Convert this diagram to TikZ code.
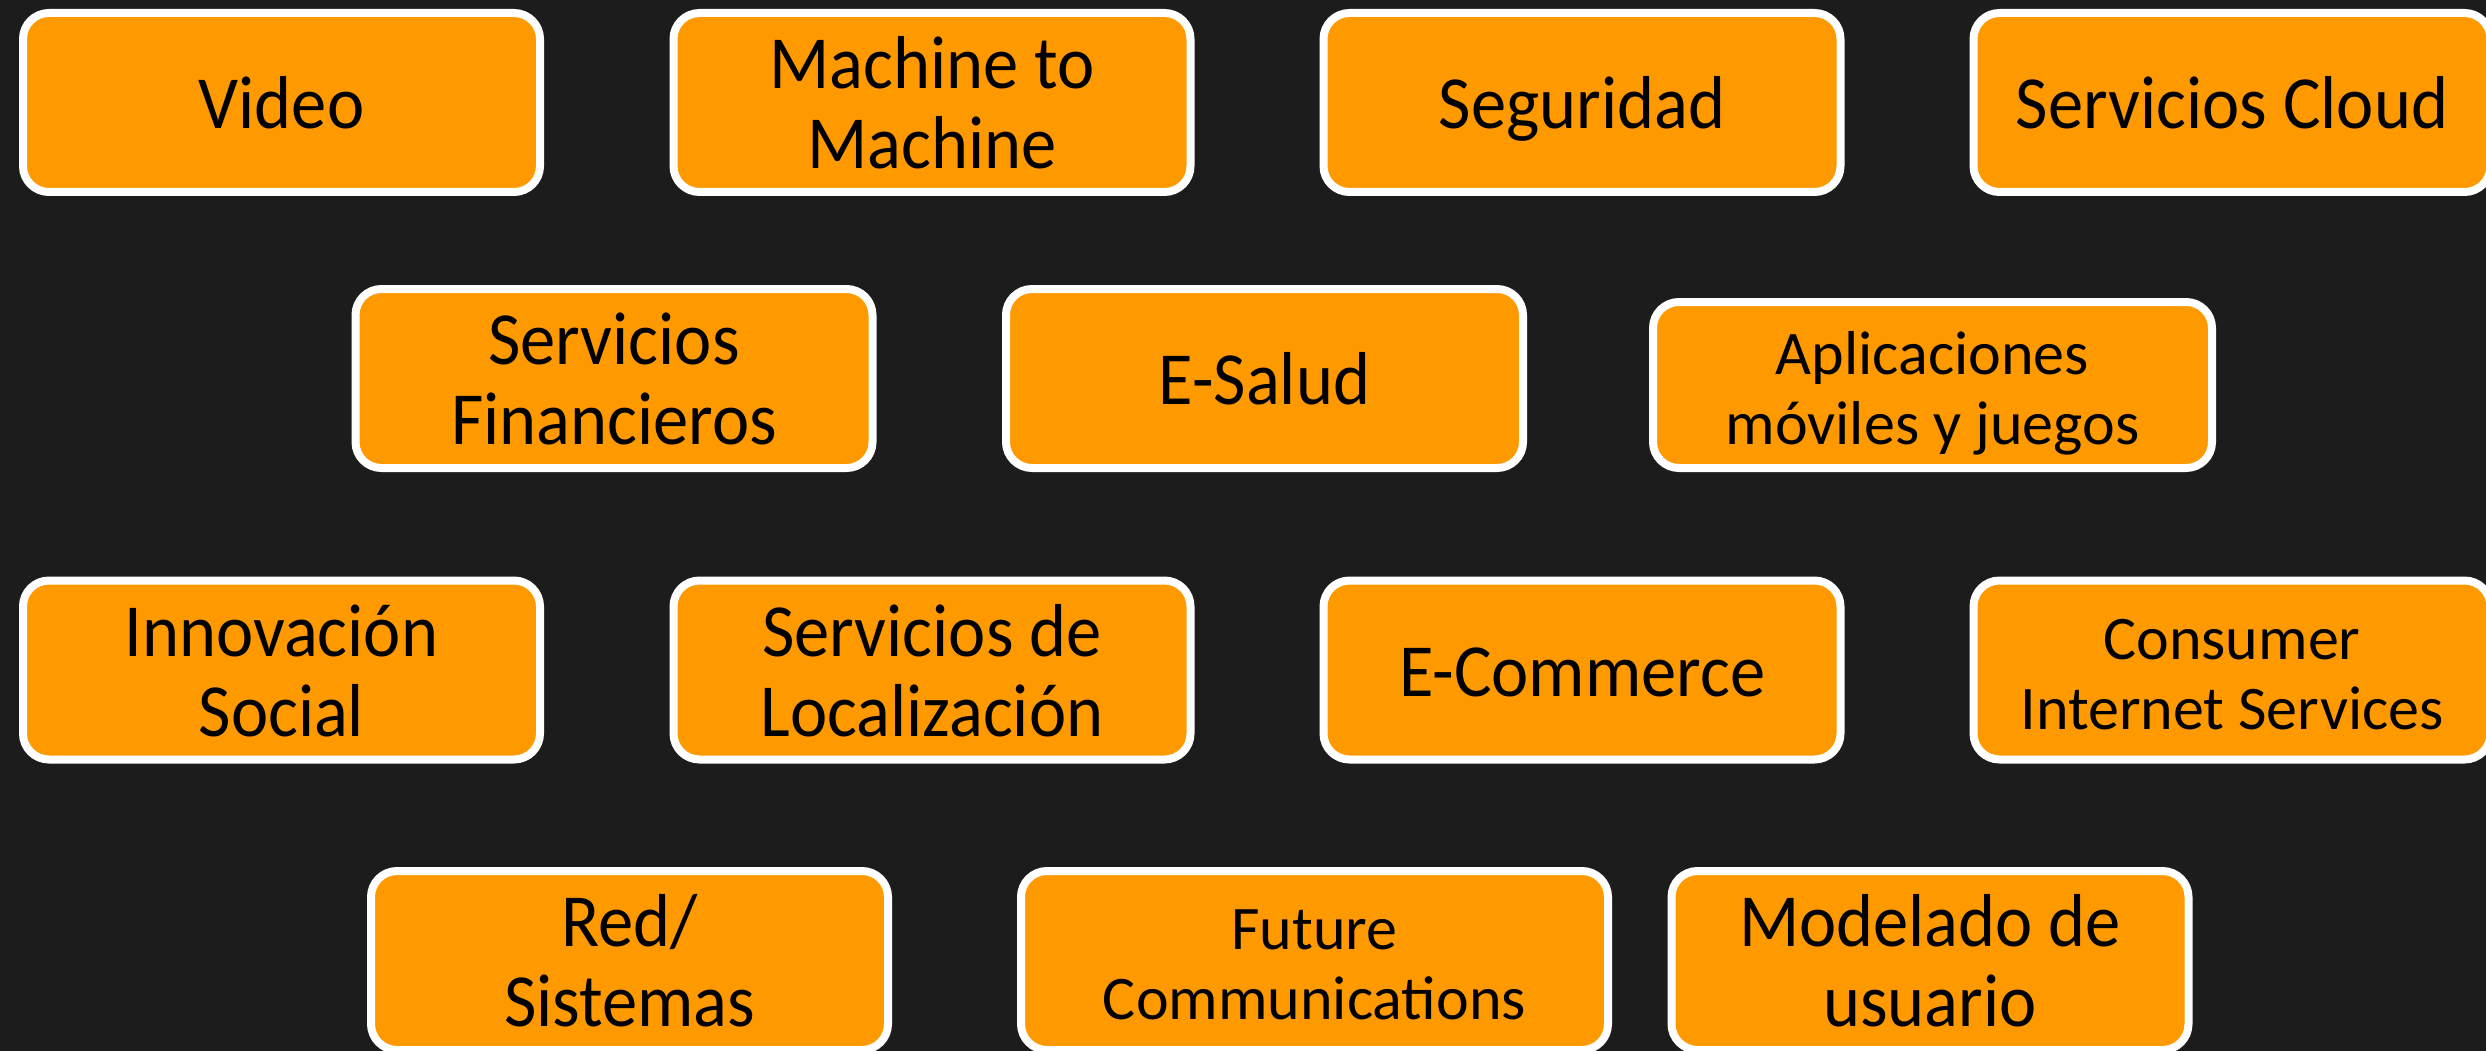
\documentclass[tikz,border=0pt]{standalone}
\usepackage{fontspec}
\setmainfont{Carlito}
\newfontfamily\bigf[FakeStretch=0.94]{Carlito}
\definecolor{bgc}{HTML}{1C1C1C}
\definecolor{org}{HTML}{FF9900}
\begin{document}
\begin{tikzpicture}[x=1pt,y=-1pt,
 box/.style={draw=white, fill=org, line width=8pt, rounded corners=26pt, minimum width=517pt, minimum height=179pt, align=center, inner sep=0pt, font=\bigf\fontsize{75}{80}\selectfont, text=black, text height=132pt, text depth=0pt},
 one/.style={text height=52pt, text depth=0pt},
 small/.style={font=\fontsize{62}{70}\selectfont, text height=118pt, text depth=0pt}]
\useasboundingbox (0,0) rectangle (2486,1051);
\fill[bgc] (0,0) rectangle (2486,1051);
\begin{scope}
\clip (0,0) rectangle (2486,1051);
\node[box,one] (video) at (281.5,102.5) {Video};
\node[box] (m2m) at (932,102.5) {Machine to\\Machine};
\node[box,one] (seg) at (1582,102.5) {Seguridad};
\node[box,one] (cloud) at (2232,102.5) {Servicios Cloud};
\node[box] (fin) at (614,378.5) {Servicios\\Financieros};
\node[box,one] (salud) at (1264.5,378.5) {E-Salud};
\node[box,small,minimum width=559pt,minimum height=166pt] (apps) at (1932.5,385) {Aplicaciones\\móviles y juegos};
\node[box] (innov) at (281.5,670) {Innovación\\Social};
\node[box] (loc) at (932,670) {Servicios de\\Localización};
\node[box,one] (ecom) at (1582,670) {E-Commerce};
\node[box,small] (cons) at (2232,670) {Consumer\\Internet Services};
\node[box] (red) at (629.5,960.5) {Red/\\Sistemas};
\node[box,small,minimum width=587pt] (fut) at (1314.5,960.5) {Future\\Communications};
\node[box] (mod) at (1930,960.5) {Modelado de\\usuario};
\end{scope}
\end{tikzpicture}
\end{document}
